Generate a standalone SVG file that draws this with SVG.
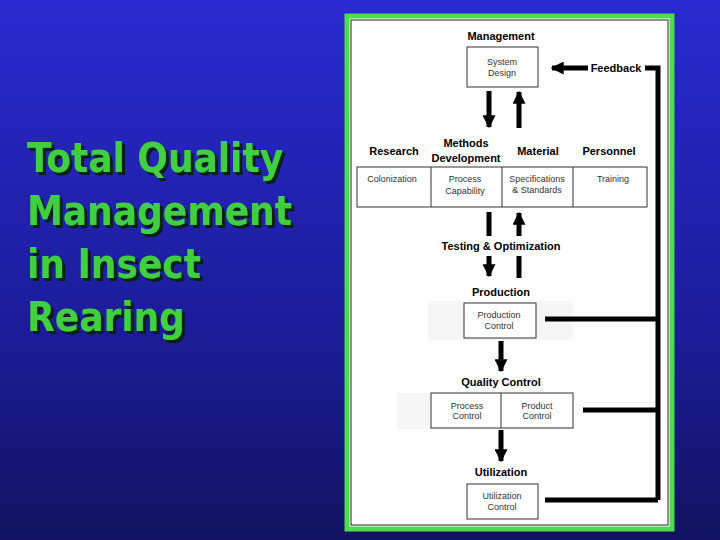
<svg xmlns="http://www.w3.org/2000/svg" width="720" height="540" viewBox="0 0 720 540">
<defs>
<linearGradient id="bg" x1="0" y1="0" x2="0" y2="1"><stop offset="0" stop-color="#2a2ad0"/><stop offset="0.6" stop-color="#1c1c9a"/><stop offset="1" stop-color="#121260"/></linearGradient>
<filter id="sh" x="-5%" y="-5%" width="115%" height="120%"><feDropShadow dx="3" dy="3" stdDeviation="0.6" flood-color="#062008" flood-opacity="1"/></filter>
<marker id="ah" viewBox="0 0 10 10" refX="9" refY="5" markerWidth="2.6" markerHeight="2.6" orient="auto"><path d="M0,0 L10,5 L0,10 z" fill="#000"/></marker>
<style>
.t{font-family:"Liberation Sans",Arial,sans-serif;fill:#000;text-anchor:middle}
.h{font-weight:bold;font-size:11px}
.s{font-size:9px;fill:#333}
.b{fill:#fff;stroke:#333;stroke-width:1}
.c{stroke:#000;stroke-width:5;fill:none}
.ttl{font-family:"DejaVu Sans Condensed","DejaVu Sans",sans-serif;font-weight:bold;font-size:40px;fill:#3fcf3f}
</style>
</defs>
<rect width="720" height="540" fill="url(#bg)"/>
<g id="title" filter="url(#sh)">
<text class="ttl" x="27" y="172">Total Quality<tspan x="27" dy="53">Management</tspan><tspan x="27" dy="53">in Insect</tspan><tspan x="27" dy="53">Rearing</tspan></text>
</g>
<rect x="347" y="16" width="325" height="513" fill="#fff" stroke="#4ddc4d" stroke-width="5"/>
<rect x="351" y="20" width="317" height="505" fill="none" stroke="#222" stroke-width="1"/>
<g id="management">
<text class="t h" x="501" y="40">Management</text>
<rect class="b" x="467" y="47" width="71" height="40"/>
<text class="t s" x="502" y="65">System</text><text class="t s" x="502" y="76">Design</text>
</g>
<g id="feedback"><text class="t h" x="616" y="72">Feedback</text></g>
<g id="headings">
<text class="t h" x="394" y="155">Research</text>
<text class="t h" x="466" y="147">Methods</text><text class="t h" x="466" y="162">Development</text>
<text class="t h" x="538" y="155">Material</text>
<text class="t h" x="609" y="155">Personnel</text>
</g>
<g id="table">
<rect class="b" x="357" y="167" width="290" height="40"/>
<path d="M431,167V207M502,167V207M573,167V207" stroke="#333"/>
<text class="t s" x="392" y="182">Colonization</text>
<text class="t s" x="465" y="182">Process</text><text class="t s" x="465" y="194">Capability</text>
<text class="t s" x="537" y="182">Specifications</text><text class="t s" x="537" y="193">&amp; Standards</text>
<text class="t s" x="613" y="182">Training</text>
</g>
<g id="testing"><text class="t h" x="501" y="250">Testing &amp; Optimization</text></g>
<g id="production">
<text class="t h" x="501" y="296">Production</text>
<rect x="428" y="301" width="145" height="39" fill="#f6f6f6"/>
<rect class="b" x="464" y="303" width="72" height="35"/>
<text class="t s" x="499" y="318">Production</text><text class="t s" x="499" y="329">Control</text>
</g>
<g id="quality">
<text class="t h" x="501" y="386">Quality Control</text>
<rect x="397" y="393" width="176" height="36" fill="#f6f6f6"/>
<rect class="b" x="431" y="393" width="142" height="35"/>
<path d="M501,393V428" stroke="#333"/>
<text class="t s" x="467" y="409">Process</text><text class="t s" x="467" y="419">Control</text>
<text class="t s" x="537" y="409">Product</text><text class="t s" x="537" y="419">Control</text>
</g>
<g id="utilization">
<text class="t h" x="501" y="476">Utilization</text>
<rect class="b" x="467" y="484" width="71" height="35"/>
<text class="t s" x="502" y="499">Utilization</text><text class="t s" x="502" y="510">Control</text>
</g>
<g id="connectors">
<path class="c" d="M588,68H552" marker-end="url(#ah)"/>
<path class="c" d="M645,68H658V500M545,319H658M583,410H658M545,500H658"/>
<path class="c" d="M489,91V127" marker-end="url(#ah)"/>
<path class="c" d="M519,128V92" marker-end="url(#ah)"/>
<path class="c" d="M489,212V236"/>
<path class="c" d="M489,256V276" marker-end="url(#ah)"/>
<path class="c" d="M519,236V213" marker-end="url(#ah)"/>
<path class="c" d="M519,256V278"/>
<path class="c" d="M501,341V371" marker-end="url(#ah)"/>
<path class="c" d="M501,430V461" marker-end="url(#ah)"/>
</g>
</svg>
